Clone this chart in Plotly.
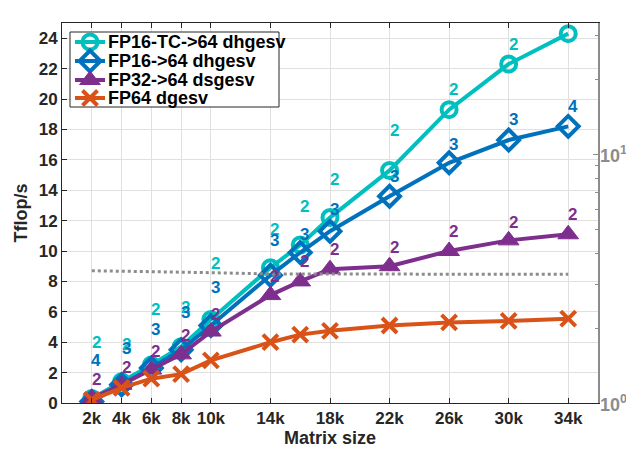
import plotly.graph_objects as go

sizes = [2000, 4000, 6000, 8000, 10000, 14000, 16000, 18000, 22000, 26000, 30000, 34000]
tick_vals = [2000, 4000, 6000, 8000, 10000, 14000, 18000, 22000, 26000, 30000, 34000]
tick_text = ["2k", "4k", "6k", "8k", "10k", "14k", "18k", "22k", "26k", "30k", "34k"]

fp16tc = [0.3, 1.4, 2.5, 3.7, 5.5, 8.9, 10.4, 12.2, 15.3, 19.3, 22.3, 24.3]
fp16 = [0.1, 1.2, 2.3, 3.5, 5.1, 8.4, 9.9, 11.3, 13.6, 15.8, 17.3, 18.2]
fp32 = [0.3, 1.2, 2.2, 3.2, 4.7, 7.1, 8.0, 8.8, 9.0, 10.0, 10.7, 11.1]
fp64 = [0.2, 1.0, 1.6, 1.9, 2.8, 4.0, 4.5, 4.75, 5.1, 5.3, 5.4, 5.55]

# iteration counts shown as labels
iters_tc = [2, 2, 2, 2, 2, 2, 2, 2, 2, 2, 2, 2]
iters_16 = [4, 3, 3, 3, 3, 3, 3, 3, 3, 3, 3, 4]
iters_32 = [2, 2, 2, 2, 2, 2, 2, 2, 2, 2, 2, 2]
label_y_tc = [3.96, 3.82, 6.13, 6.26, 9.16, 11.4, 12.9, 14.7, 17.9, 20.6, 23.6, 25.7]
label_y_16 = [2.77, 3.56, 4.81, 5.93, 7.58, 10.68, 11.1, 12.72, 14.9, 17.0, 18.66, 19.5]
label_y_32 = [1.52, 2.31, 3.36, 4.42, 5.8, 8.3, 9.3, 10.1, 10.2, 11.27, 11.87, 12.4]

# reference (right, log axis)
ref_vals = [3.40, 3.39, 3.38, 3.36, 3.34, 3.30, 3.30, 3.30, 3.30, 3.29, 3.29, 3.29]
right_ticks = [1, 10]
right_tick_text = ["10<sup>0</sup>", "10<sup>1</sup>"]

names = ["FP16-TC->64 dhgesv", "FP16->64 dhgesv", "FP32->64 dsgesv", "FP64 dgesv"]

C_TC = "#00BFBF"
C_16 = "#0072BD"
C_32 = "#7E2F8E"
C_64 = "#D95319"
GRAY = "#8c8c8c"
FONT = "Liberation Sans"
OFF = 8  # page body margin
W, H = 634 - OFF, 451 - OFF
ML, MT = 62 - OFF, 23 - OFF
MR = W - (598 - OFF)
MB = H - (403 - OFF)
PW, PH = W - ML - MR, H - MT - MB


def px(xs):
    return (xs - OFF - ML) / PW


def py(ys):
    return (H - MB - (ys - OFF)) / PH


fig = go.Figure()

fig.add_trace(go.Scatter(x=sizes, y=ref_vals, yaxis="y2", mode="lines",
                         line=dict(color=GRAY, width=3, dash="dot"),
                         showlegend=False, hoverinfo="skip"))

styles = [
    (fp16tc, C_TC, "circle-open", 15),
    (fp16, C_16, "diamond-open", 16),
    (fp32, C_32, "triangle-up", 18),
    (fp64, C_64, "x-thin-open", 15),
]
for name, (vals, col, sym, sz) in zip(names, styles):
    fig.add_trace(go.Scatter(
        x=sizes, y=vals, name=name, mode="lines+markers", showlegend=False,
        line=dict(color=col, width=4),
        marker=dict(symbol=sym, size=sz, color=col,
                    line=dict(color=col, width=4 if "open" in sym else 1)),
    ))

for labels, ys, col in [(iters_tc, label_y_tc, C_TC), (iters_16, label_y_16, C_16),
                        (iters_32, label_y_32, C_32)]:
    for xv, yv, t in zip(sizes, ys, labels):
        fig.add_annotation(x=xv + 300, y=yv, xref="x", yref="y", text=str(t),
                           showarrow=False, xanchor="center", yanchor="middle",
                           font=dict(family=FONT, size=17, color=col, weight="bold"))

# right log-axis tick labels (placed as annotations so they are not clipped)
import math
for tv, tt in zip(right_ticks, right_tick_text):
    fig.add_annotation(x=1, y=math.log10(tv), xref="paper", yref="y2", text=tt,
                       showarrow=False, xanchor="left", yanchor="middle", xshift=0,
                       font=dict(family=FONT, size=18, color=GRAY, weight="bold"))

# custom legend drawn on an overlay subplot with [0,1] ranges
bx0, bx1, by0, by1 = px(70), px(279), py(32), py(107)
fig.add_trace(go.Scatter(x=[bx0, bx1, bx1, bx0, bx0], y=[by0, by0, by1, by1, by0],
                         xaxis="x2", yaxis="y3", mode="lines", fill="toself",
                         fillcolor="white", line=dict(color="#262626", width=1),
                         showlegend=False, hoverinfo="skip"))
entry_y = [42, 61, 80, 98]
for name, (vals, col, sym, sz), ey in zip(names, styles, entry_y):
    yy = py(ey)
    fig.add_trace(go.Scatter(x=[px(75), px(105)], y=[yy, yy], xaxis="x2", yaxis="y3",
                             mode="lines", line=dict(color=col, width=4),
                             showlegend=False, hoverinfo="skip"))
    fig.add_trace(go.Scatter(x=[px(90)], y=[yy], xaxis="x2", yaxis="y3", mode="markers",
                             marker=dict(symbol=sym, size=sz, color=col,
                                         line=dict(color=col, width=4 if "open" in sym else 1)),
                             showlegend=False, hoverinfo="skip"))
    fig.add_annotation(x=px(106), y=yy, xref="paper", yref="paper", text=name,
                       showarrow=False, xanchor="left", yanchor="middle",
                       font=dict(family=FONT, size=18, color="black", weight="bold"))

fig.update_layout(
    width=W, height=H,
    margin=dict(l=ML, r=MR, t=MT, b=MB),
    paper_bgcolor="white", plot_bgcolor="white",
    font=dict(family=FONT, color="#262626"),
    showlegend=False,
    xaxis=dict(range=[0, 36000], tickvals=tick_vals, ticktext=tick_text,
               ticks="inside", ticklen=5, tickcolor="#262626", automargin=False,
               showline=True, linecolor="#262626", linewidth=1, mirror="ticks",
               showgrid=True, gridcolor="#e0e0e0", gridwidth=1, zeroline=False,
               tickfont=dict(family=FONT, size=17, color="#262626", weight="bold"),
               title=dict(text="Matrix size", standoff=2,
                          font=dict(family=FONT, size=18, color="#262626", weight="bold"))),
    yaxis=dict(range=[0, 25], tickvals=list(range(0, 25, 2)),
               ticks="inside", ticklen=5, tickcolor="#262626", automargin=False,
               showline=True, linecolor="#262626", linewidth=1,
               showgrid=True, gridcolor="#e0e0e0", gridwidth=1, zeroline=False,
               tickfont=dict(family=FONT, size=17, color="#262626", weight="bold"),
               title=dict(text="Tflop/s", standoff=6,
                          font=dict(family=FONT, size=18, color="#262626", weight="bold"))),
    yaxis2=dict(type="log", range=[0, 1.527], overlaying="y", side="right",
                tickvals=right_ticks, showticklabels=False,
                ticks="inside", ticklen=5, tickcolor=GRAY, automargin=False,
                minor=dict(tickvals=[2, 3, 4, 5, 6, 7, 8, 9, 20, 30], ticks="inside",
                           ticklen=3, tickcolor=GRAY, showgrid=False),
                showline=True, linecolor=GRAY, linewidth=1.5,
                showgrid=False, zeroline=False),
    xaxis2=dict(range=[0, 1], overlaying="x", visible=False, fixedrange=True),
    yaxis3=dict(range=[0, 1], overlaying="y", visible=False, fixedrange=True),
)

fig.write_html("out.html")
